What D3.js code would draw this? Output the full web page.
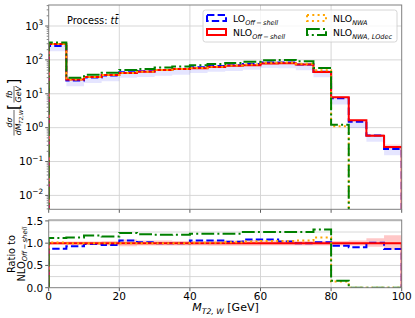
<!DOCTYPE html>
<html>
<head>
<meta charset="utf-8">
<script src="https://cdn.jsdelivr.net/npm/d3@7"></script>
<style>
  body { margin: 0; background: #fff; }
  svg { display: block; font-family: "DejaVu Sans", sans-serif; }
</style>
</head>
<body>
<div id="chart"></div>
<script>
// bins in M_T2,W [GeV]
const binEdges = [0, 5, 10, 15, 20, 25, 30, 35, 40, 45, 50, 55, 60, 65, 70, 75, 80, 85, 90, 95, 100]

// dsigma/dM [fb/GeV]
const nloOffshell = [292, 26.5, 31, 36, 41, 45, 50, 54, 57, 62, 67, 70, 78, 80, 73, 44, 7.9, 1.65, 0.58, 0.27]
const loOffshell = [255, 24.6, 30.4, 34.6, 43.5, 45.9, 50, 54, 60.4, 65.7, 69, 75.6, 84.2, 83.2, 73, 44.9, 7.43, 1.5, 0.586, 0.235]
const nloNWA = [296, 26.5, 31, 36, 41, 45, 50, 54, 57.6, 62.6, 68.3, 72.8, 81.9, 84, 77.4, 49.7, 1.1, 0, 0, 0]
const nloNWALOdec = [326, 29.9, 36.3, 41.4, 50.4, 54, 59.5, 64.3, 69, 75, 81, 87.5, 97.5, 100, 91.3, 57.6, 1.22, 0, 0, 0]

// scale uncertainty (relative)
const nloUp = [1.03, 1.04, 1.04, 1.05, 1.08, 1.06, 1.06, 1.05, 1.05, 1.06, 1.06, 1.07, 1.06, 1.06, 1.05, 1.05, 1.05, 1.06, 1.11, 1.18]
const nloDown = [0.97, 0.96, 0.96, 0.95, 0.93, 0.95, 0.95, 0.95, 0.95, 0.94, 0.94, 0.94, 0.95, 0.95, 0.95, 0.95, 0.95, 0.95, 0.92, 0.85]
const loUp = [1.1, 1.1, 1.1, 1.1, 1.1, 1.1, 1.1, 1.1, 1.1, 1.1, 1.1, 1.1, 1.1, 1.1, 1.1, 1.1, 1.1, 1.1, 1.1, 1.1]
const loDown = [0.7, 0.68, 0.68, 0.68, 0.68, 0.68, 0.68, 0.68, 0.68, 0.68, 0.68, 0.68, 0.68, 0.68, 0.68, 0.68, 0.65, 0.65, 0.65, 0.65]

const xTicks = [0, 20, 40, 60, 80, 100]
const yTicksMain = [1e-2, 1e-1, 1, 10, 100, 1000]
const yTickExp = ["\u22122", "\u22121", "0", "1", "2", "3"]
const yTicksRatio = [0, 0.5, 1.0, 1.5]
const yGridRatio = [0.25, 0.5, 0.75, 1.0, 1.25, 1.5]

const width = 415
const height = 318
const frameColor = "#808080"
const gridColor = "#d3d3d3"

const series = [
  {name: "LO", sub: "Off\u2009\u2212\u2009shell", values: loOffshell, color: "blue", dash: "7.4,3.2"},
  {name: "NLO", sub: "Off\u2009\u2212\u2009shell", values: nloOffshell, color: "red", dash: null},
  {name: "NLO", sub: "NWA", values: nloNWA, color: "orange", dash: "2,3.3"},
  {name: "NLO", sub: "NWA, LOdec", values: nloNWALOdec, color: "green", dash: "12.8,3.2,2,3.2"}
]

const x = d3.scaleLinear([0, 100], [48.7, 401.7])
const yMain = d3.scaleLog([10 ** -2.41, 10 ** 3.62], [209.3, 5])
const yRatio = d3.scaleLinear([0, 1.52], [287.7, 220])

const svg = d3.select("#chart").append("svg")
  .attr("width", width)
  .attr("height", height)
  .attr("viewBox", [0, 0, width, height])

svg.append("rect").attr("width", width).attr("height", height).attr("fill", "#fff")

const defs = svg.append("defs")
defs.append("clipPath").attr("id", "clipMain").append("rect")
  .attr("x", x(0)).attr("y", yMain.range()[1])
  .attr("width", x(100) - x(0)).attr("height", yMain.range()[0] - yMain.range()[1])
defs.append("clipPath").attr("id", "clipRatio").append("rect")
  .attr("x", x(0)).attr("y", yRatio.range()[1])
  .attr("width", x(100) - x(0)).attr("height", yRatio.range()[0] - yRatio.range()[1])

// text with sub/superscripts
function richText(sel, parts, size) {
  let shift = 0
  parts.forEach(p => {
    const target = p.sub ? size * 0.28 : p.sup ? -size * 0.45 : 0
    sel.append("tspan")
      .attr("dy", target - shift)
      .attr("font-size", p.sub || p.sup ? size * 0.7 : size)
      .attr("font-style", p.italic ? "italic" : null)
      .text(p.t)
    shift = target
  })
  return sel
}

// step outline of a histogram, dropping to floor at both ends
function stepPoints(values, floor) {
  const pts = [[binEdges[0], floor]]
  values.forEach((v, i) => {
    const w = v > 0 ? v : floor
    pts.push([binEdges[i], w])
    pts.push([binEdges[i + 1], w])
  })
  pts.push([binEdges[binEdges.length - 1], floor])
  return pts
}

function bandPoints(lower, upper) {
  const pts = lower.map((v, i) => ({x: binEdges[i], lo: v, hi: upper[i]}))
  pts.push({x: binEdges[binEdges.length - 1], lo: lower[lower.length - 1], hi: upper[upper.length - 1]})
  return pts
}

// ---------- main panel ----------
const main = svg.append("g")

main.append("g").selectAll("line").data(yTicksMain).join("line")
  .attr("x1", x(0)).attr("x2", x(100))
  .attr("y1", d => yMain(d)).attr("y2", d => yMain(d))
  .attr("stroke", gridColor).attr("stroke-width", 0.9)
main.append("g").selectAll("line").data(xTicks.slice(1, -1)).join("line")
  .attr("x1", d => x(d)).attr("x2", d => x(d))
  .attr("y1", yMain.range()[1]).attr("y2", yMain.range()[0])
  .attr("stroke", gridColor).attr("stroke-width", 0.9)

const plotMain = main.append("g").attr("clip-path", "url(#clipMain)")

const areaMain = d3.area().curve(d3.curveStepAfter)
  .x(d => x(d.x)).y0(d => yMain(d.lo)).y1(d => yMain(d.hi))

plotMain.append("path")
  .datum(bandPoints(loOffshell.map((v, i) => v * loDown[i]), loOffshell.map((v, i) => v * loUp[i])))
  .attr("fill", "blue").attr("fill-opacity", 0.1).attr("d", areaMain)
plotMain.append("path")
  .datum(bandPoints(nloOffshell.map((v, i) => v * nloDown[i]), nloOffshell.map((v, i) => v * nloUp[i])))
  .attr("fill", "red").attr("fill-opacity", 0.15).attr("d", areaMain)

const lineMain = d3.line().x(d => x(d[0])).y(d => yMain(d[1]))
const floorMain = 1e-4
series.forEach(s => {
  plotMain.append("path")
    .datum(stepPoints(s.values, floorMain))
    .attr("fill", "none")
    .attr("stroke", s.color)
    .attr("stroke-width", 2)
    .attr("stroke-dasharray", s.dash)
    .attr("d", lineMain)
})

// minor log ticks
const minorTicks = []
for (let e = -3; e <= 3; e++) for (let m = 2; m <= 9; m++) minorTicks.push(m * 10 ** e)
main.append("g").selectAll("line").data(minorTicks.filter(v => v > yMain.domain()[0] && v < yMain.domain()[1])).join("line")
  .attr("x1", x(0) - 2).attr("x2", x(0))
  .attr("y1", d => yMain(d)).attr("y2", d => yMain(d))
  .attr("stroke", "#333").attr("stroke-width", 0.6)
main.append("g").selectAll("line").data(yTicksMain).join("line")
  .attr("x1", x(0) - 3.5).attr("x2", x(0))
  .attr("y1", d => yMain(d)).attr("y2", d => yMain(d))
  .attr("stroke", "#333").attr("stroke-width", 0.8)
main.append("g").selectAll("line").data(xTicks).join("line")
  .attr("x1", d => x(d)).attr("x2", d => x(d))
  .attr("y1", yMain.range()[0]).attr("y2", yMain.range()[0] + 3.5)
  .attr("stroke", "#333").attr("stroke-width", 0.8)

main.append("g").selectAll("text").data(yTicksMain).join("text")
  .attr("x", x(0) - 5.5)
  .attr("y", d => yMain(d) + 3.8)
  .attr("text-anchor", "end")
  .attr("fill", "#000")
  .each(function(d, i) {
    richText(d3.select(this), [{t: "10"}, {t: yTickExp[i], sup: true}], 10.5)
  })

main.append("rect")
  .attr("x", x(0)).attr("y", yMain.range()[1])
  .attr("width", x(100) - x(0)).attr("height", yMain.range()[0] - yMain.range()[1])
  .attr("fill", "none").attr("stroke", frameColor).attr("stroke-width", 1)

// process text
richText(main.append("text").attr("x", 67).attr("y", 23.5),
  [{t: "Process: "}, {t: "t", italic: true}, {t: "t\u0304", italic: true}], 9.5)
  .selectAll("tspan").attr("font-size", 9.8)

// y label main
const yl = svg.append("g").attr("transform", "translate(14,107.5) rotate(-90)")
  .attr("font-size", 7.8).attr("fill", "#000")
yl.append("text").attr("x", -15).attr("y", -1.8).attr("text-anchor", "middle")
  .attr("font-style", "italic").text("d\u03c3")
yl.append("line").attr("x1", -28).attr("x2", -2.5).attr("y1", 0).attr("y2", 0)
  .attr("stroke", "#000").attr("stroke-width", 0.6)
richText(yl.append("text").attr("x", -15).attr("y", 6.8).attr("text-anchor", "middle"),
  [{t: "dM", italic: true}, {t: "T2,W", sub: true, italic: true}], 7.8)
yl.append("text").attr("x", 0.5).attr("y", 5).attr("font-size", 15).attr("text-anchor", "middle").text("[")
yl.append("text").attr("x", 26).attr("y", 5).attr("font-size", 15).attr("text-anchor", "middle").text("]")
yl.append("text").attr("x", 13.2).attr("y", -1.8).attr("text-anchor", "middle")
  .attr("font-style", "italic").text("fb")
yl.append("line").attr("x1", 5).attr("x2", 21.5).attr("y1", 0).attr("y2", 0)
  .attr("stroke", "#000").attr("stroke-width", 0.6)
yl.append("text").attr("x", 13.2).attr("y", 6.8).attr("text-anchor", "middle")
  .attr("font-style", "italic").text("GeV")

// legend
const legend = svg.append("g").attr("transform", "translate(203,10)")
legend.append("rect").attr("width", 194).attr("height", 32).attr("rx", 2.5)
  .attr("fill", "#fff").attr("fill-opacity", 0.8).attr("stroke", "#cccccc").attr("stroke-width", 0.8)
const legendPos = [[3, 5], [3, 19], [103, 5], [103, 19]]
series.forEach((s, i) => {
  const [lx, ly] = legendPos[i]
  legend.append("rect")
    .attr("x", lx + 1).attr("y", ly).attr("width", 19).attr("height", 6)
    .attr("fill", "none").attr("stroke", s.color).attr("stroke-width", 2)
    .attr("stroke-dasharray", s.dash)
  richText(legend.append("text").attr("x", lx + 27).attr("y", ly + 7),
    [{t: s.name}, {t: s.sub, sub: true, italic: true}], 9.3)
})

// ---------- ratio panel ----------
const ratio = svg.append("g")

ratio.append("g").selectAll("line").data(yGridRatio).join("line")
  .attr("x1", x(0)).attr("x2", x(100))
  .attr("y1", d => yRatio(d)).attr("y2", d => yRatio(d))
  .attr("stroke", gridColor).attr("stroke-width", 0.9)
ratio.append("g").selectAll("line").data(xTicks.slice(1, -1)).join("line")
  .attr("x1", d => x(d)).attr("x2", d => x(d))
  .attr("y1", yRatio.range()[1]).attr("y2", yRatio.range()[0])
  .attr("stroke", gridColor).attr("stroke-width", 0.9)

const plotRatio = ratio.append("g").attr("clip-path", "url(#clipRatio)")
const areaRatio = d3.area().curve(d3.curveStepAfter)
  .x(d => x(d.x)).y0(d => yRatio(d.lo)).y1(d => yRatio(d.hi))
plotRatio.append("path")
  .datum(bandPoints(nloDown, nloUp))
  .attr("fill", "red").attr("fill-opacity", 0.22).attr("d", areaRatio)

const lineRatio = d3.line().x(d => x(d[0])).y(d => yRatio(d[1]))
series.forEach(s => {
  const r = s.values.map((v, i) => v / nloOffshell[i])
  plotRatio.append("path")
    .datum(stepPoints(r, 0).map(p => [p[0], p[1] > 0 ? p[1] : 0]))
    .attr("fill", "none")
    .attr("stroke", s.color)
    .attr("stroke-width", 2)
    .attr("stroke-dasharray", s.dash)
    .attr("d", lineRatio)
})

ratio.append("g").selectAll("line").data(yTicksRatio).join("line")
  .attr("x1", x(0) - 3.5).attr("x2", x(0))
  .attr("y1", d => yRatio(d)).attr("y2", d => yRatio(d))
  .attr("stroke", "#333").attr("stroke-width", 0.8)
ratio.append("g").selectAll("line").data(xTicks).join("line")
  .attr("x1", d => x(d)).attr("x2", d => x(d))
  .attr("y1", yRatio.range()[0]).attr("y2", yRatio.range()[0] + 3.5)
  .attr("stroke", "#333").attr("stroke-width", 0.8)

ratio.append("g").selectAll("text").data(yTicksRatio).join("text")
  .attr("x", x(0) - 5.5).attr("y", d => yRatio(d) + 3.8)
  .attr("text-anchor", "end").attr("font-size", 10.5)
  .text(d => d3.format(".1f")(d))
ratio.append("g").selectAll("text").data(xTicks).join("text")
  .attr("x", d => x(d)).attr("y", 299.5)
  .attr("text-anchor", "middle").attr("font-size", 10.5)
  .text(d => d)

ratio.append("rect")
  .attr("x", x(0)).attr("y", yRatio.range()[1])
  .attr("width", x(100) - x(0)).attr("height", yRatio.range()[0] - yRatio.range()[1])
  .attr("fill", "none").attr("stroke", frameColor).attr("stroke-width", 1)

// axis labels
richText(svg.append("text").attr("x", 225.5).attr("y", 310.5).attr("text-anchor", "middle"),
  [{t: "M", italic: true}, {t: "T2, W", sub: true, italic: true}, {t: " [GeV]"}], 11)

const rl = svg.append("g").attr("transform", "translate(0,254) rotate(-90)")
rl.append("text").attr("x", 0).attr("y", 14.5).attr("text-anchor", "middle")
  .attr("font-size", 9.8).text("Ratio to")
richText(rl.append("text").attr("x", 0).attr("y", 24.5).attr("text-anchor", "middle"),
  [{t: "NLO"}, {t: "Off\u2009\u2212\u2009shell", sub: true, italic: true}], 9.8)
</script>
</body>
</html>
